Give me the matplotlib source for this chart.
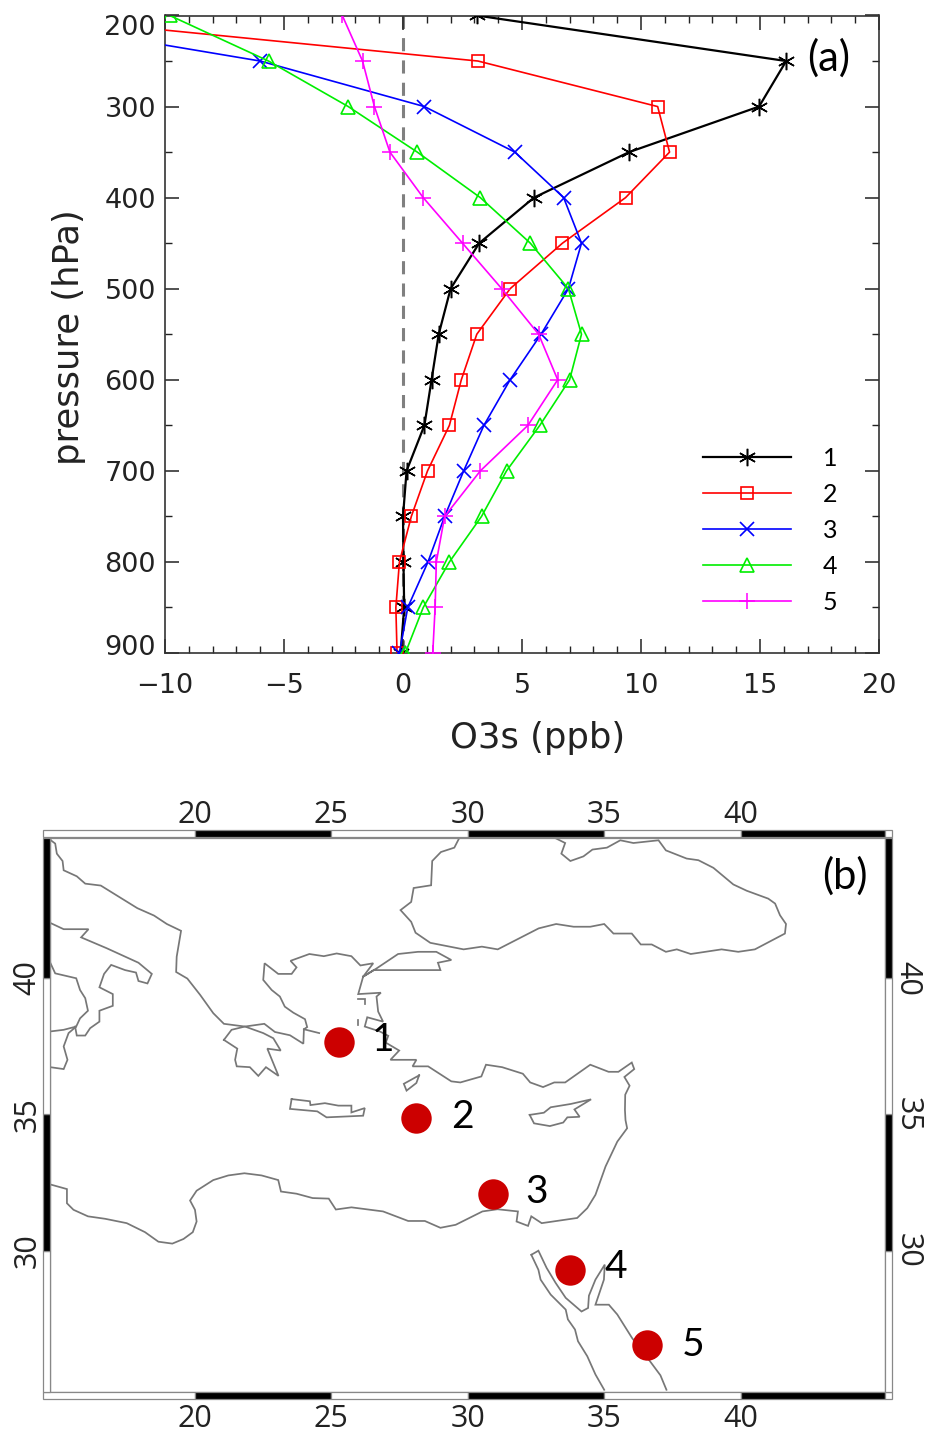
import matplotlib
matplotlib.use("Agg")
import matplotlib.pyplot as plt
from matplotlib.patches import Rectangle
from matplotlib.ticker import MultipleLocator
from matplotlib.transforms import ScaledTranslation

W, H = 927, 1433

# ---------- panel (a) data ----------
pressure = [200, 250, 300, 350, 400, 450, 500, 550, 600, 650, 700, 750, 800, 850, 900]
profile_1 = [3.1, 16.1, 14.96, 9.5, 5.5, 3.2, 2.0, 1.5, 1.2, 0.9, 0.15, 0.0, 0.02, 0.05, -0.1]
profile_2 = [-16.2, 3.15, 10.7, 11.2, 9.35, 6.7, 4.5, 3.1, 2.45, 1.95, 1.03, 0.35, -0.15, -0.3, -0.25]
profile_3 = [-17.4, -6.0, 0.9, 4.7, 6.75, 7.5, 6.95, 5.8, 4.5, 3.4, 2.55, 1.75, 1.05, 0.2, -0.15]
profile_4 = [-9.8, -5.65, -2.3, 0.6, 3.25, 5.35, 6.95, 7.5, 7.0, 5.75, 4.35, 3.3, 1.95, 0.85, 0.1]
profile_5 = [-2.55, -1.7, -1.2, -0.55, 0.85, 2.5, 4.15, 5.7, 6.5, 5.25, 3.25, 1.75, 1.4, 1.35, 1.25]
series_labels = ["1", "2", "3", "4", "5"]

# ---------- panel (b) data: site locations ----------
site_lon = [25.29, 28.11, 30.94, 33.76, 36.57]
site_lat = [37.66, 34.85, 32.09, 29.30, 26.54]
site_names = ["1", "2", "3", "4", "5"]

# ---------- panel (b) data: coastlines (lon, lat) ----------
balkan_lon = [14.71,14.73,14.89,14.95,15.16,15.20,15.68,15.99,16.56,17.27,17.90,18.51,18.98,19.50,19.34,19.32,19.73,20.20,20.68,21.07,21.84,22.55,22.94,23.49,23.98,24.00,24.56]
balkan_lat = [45.11,45.05,44.93,44.56,44.29,43.95,43.73,43.46,43.39,42.95,42.56,42.29,41.98,41.73,40.78,40.22,39.98,39.38,38.71,38.32,38.22,38.32,38.02,37.90,37.59,38.12,37.98]
aegean_lon = [24.00,24.12,24.04,23.61,23.30,23.12,22.82,22.51,22.56,23.06,23.55,23.73,23.51,24.20,24.73,25.20,25.74,26.07,26.54,26.17]
aegean_lat = [38.12,38.20,38.49,38.73,38.95,39.32,39.56,39.93,40.54,40.15,40.15,40.39,40.63,40.88,40.80,40.90,40.80,40.46,40.54,40.05]
thrace_lon = [26.17,26.66,27.45,28.18,28.85,29.40,28.91,29.00,26.56,26.17]
thrace_lat = [40.05,40.35,40.88,40.96,40.96,40.66,40.56,40.29,40.29,40.05]
anatolia_lon = [26.17,25.99,26.82,26.66,26.72,26.90,26.32,26.23,26.78,27.09,27.00,27.49,27.17,28.12,27.98,28.55,29.40,29.73,30.50,30.67,31.26,32.02,32.29,32.76,33.17,33.57,34.49,35.16,35.52,36.01,36.10,35.74,35.93,35.77,35.76,35.78,35.84,35.48,35.05,34.68,34.38,34.01,32.71,32.33,32.21,31.79,31.84,31.09,30.54,29.56,29.00,28.43,27.82,26.90,25.74,25.17,24.91,24.32,23.73,23.16,23.06,22.45,21.82,21.23,20.68,20.07,19.83,20.01,20.07,19.93,19.59,19.18,18.67,18.18,17.51,16.72,16.09,15.56,15.32,15.32,14.71]
anatolia_lat = [40.05,39.41,39.46,39.32,38.77,38.40,38.56,38.22,38.04,37.88,37.63,37.34,37.00,37.00,36.76,36.76,36.21,36.17,36.39,36.82,36.73,36.49,36.17,36.00,36.17,36.17,36.82,36.56,36.56,36.90,36.66,36.37,36.05,35.72,35.16,34.79,34.49,34.00,33.09,32.05,31.56,31.20,31.01,31.26,30.91,31.07,31.44,31.52,31.44,30.95,30.84,31.09,31.09,31.44,31.59,31.51,31.91,31.93,32.09,32.17,32.59,32.76,32.84,32.76,32.59,32.20,31.84,31.50,31.07,30.68,30.43,30.26,30.33,30.68,31.01,31.17,31.26,31.50,31.74,32.26,32.43]
blacksea_lon = [29.70,29.51,29.02,28.70,28.66,28.02,27.93,27.54,27.93,28.09,28.63,29.85,30.52,31.10,32.60,33.24,33.88,34.49,35.00,35.34,36.01,36.34,36.74,37.26,37.66,38.17,39.30,39.91,40.52,41.62,41.66,41.44,41.26,41.01,40.22,39.73,39.00,38.45,38.02,37.26,36.99,36.07,35.59,35.10,34.57,34.24,33.76,33.43,33.57,33.17]
blacksea_lat = [45.15,44.78,44.62,44.29,43.40,43.30,42.79,42.49,42.06,41.66,41.29,41.05,41.15,41.05,41.82,41.98,41.88,41.88,41.98,41.63,41.63,41.23,41.23,40.96,41.05,40.88,41.05,40.96,41.05,41.63,41.98,42.30,42.73,42.91,43.20,43.43,44.04,44.32,44.38,44.68,45.05,44.95,45.05,44.78,44.71,44.46,44.29,44.56,44.95,45.15]
pelop_lon = [21.07,21.35,21.84,22.51,22.88,23.15,22.66,23.07,22.61,22.33,22.02,21.54,21.48,21.56,21.07]
pelop_lat = [37.73,38.10,38.22,37.98,37.79,37.34,37.41,36.41,36.73,36.41,36.73,36.76,37.00,37.41,37.73]
crete_lon = [23.55,24.22,24.24,24.77,25.26,25.74,25.74,26.23,26.17,24.83,24.49,23.49,23.55]
crete_lat = [35.56,35.48,35.34,35.41,35.32,35.32,35.07,35.23,34.95,34.89,35.11,35.20,35.56]
rhodes_lon = [28.22,28.12,27.76,27.66,28.22]
rhodes_lat = [36.43,36.15,35.87,36.12,36.43]
cyprus_lon = [32.27,32.79,33.04,33.77,34.52,33.91,34.10,33.65,33.50,33.01,32.43,32.27]
cyprus_lat = [34.98,35.06,35.26,35.38,35.55,35.18,34.91,34.89,34.70,34.57,34.67,34.98]
italy_heel_lon = [14.71,15.20,16.11,15.84,16.78,17.94,18.43,18.27,17.94,17.85,17.45,16.94,16.68,16.51,17.00,17.00,16.51,16.51,16.17,15.99,15.68,15.62]
italy_heel_lat = [42.02,41.79,41.79,41.49,41.09,40.56,40.15,39.80,39.89,40.20,40.29,40.48,40.15,39.66,39.41,38.98,38.80,38.40,38.16,37.89,37.89,38.22]
italy_west_lon = [14.71,14.89,15.66,15.80,15.99,16.09,15.80,15.66]
italy_west_lat = [40.56,40.17,39.99,39.56,39.26,38.80,38.52,38.22]
sicily_lon = [14.71,15.20,15.66,15.38,15.20,15.34,15.20,14.71]
sicily_lat = [38.04,38.10,38.22,37.98,37.49,37.00,36.66,36.73]
sinai_lon = [32.33,32.59,32.89,33.22,33.59,34.17,34.41,34.44,34.68,35.02,34.99,34.68,35.17,35.48,36.02,36.33,36.63,37.06,37.28]
sinai_lat = [29.85,30.00,29.37,28.82,28.27,27.77,27.90,28.35,28.94,29.49,28.94,28.02,28.02,27.66,26.80,26.38,26.01,25.43,24.90]
egypt_lon = [32.33,32.59,32.67,33.04,33.59,33.67,33.93,34.04,34.38,34.68,35.00]
egypt_lat = [29.85,29.30,28.94,28.39,27.84,27.48,27.11,26.68,26.13,25.46,24.90]
islet1_lon = [25.99,26.23,26.23]
islet1_lat = [39.23,39.23,39.05]
islet2_lon = [25.99,25.99]
islet2_lat = [38.46,38.26]

coasts = [(balkan_lon, balkan_lat), (aegean_lon, aegean_lat), (thrace_lon, thrace_lat),
          (anatolia_lon, anatolia_lat), (blacksea_lon, blacksea_lat), (pelop_lon, pelop_lat),
          (crete_lon, crete_lat), (rhodes_lon, rhodes_lat), (cyprus_lon, cyprus_lat),
          (italy_heel_lon, italy_heel_lat), (italy_west_lon, italy_west_lat), (sicily_lon, sicily_lat),
          (sinai_lon, sinai_lat), (egypt_lon, egypt_lat), (islet1_lon, islet1_lat), (islet2_lon, islet2_lat)]

lon_ticks = [20, 25, 30, 35, 40]
lat_ticks = [30, 35, 40]


def px_axes(fig, left, top, right, bottom):
    return fig.add_axes([left / W, 1 - bottom / H, (right - left) / W, (bottom - top) / H])


TICK_FONT = "Open Sans"
AXIS_FONT = "DejaVu Sans"
NOTE_FONT = "Lato"
INK = "#222222"
MAP_TICK_SIZE = 22

fig = plt.figure(figsize=(W / 100, H / 100), dpi=100, facecolor="white")

# ---------- panel (a) ----------
ax = px_axes(fig, 165, 15.5, 879, 653)
ax.set_xlim(-10, 20)
ax.set_ylim(900, 200)
ax.axvline(0, color="#808080", lw=2.2, linestyle=(0, (4.3, 3.0)), zorder=1)

styles = [
    ("black", (6, 2, 0), 12.5, 1.6, 1.1),
    ("#FF0000", "s", 9, 1.2, 1.2),
    ("#0000FF", "x", 9.5, 1.2, 1.2),
    ("#00EE00", "^", 10, 1.2, 1.2),
    ("#FF00FF", "+", 11, 1.2, 1.1),
]
for vals, lab, (col, mk, ms, lw, mew) in zip(
        [profile_1, profile_2, profile_3, profile_4, profile_5], series_labels, styles):
    ax.plot(vals, pressure, color=col, marker=mk, ms=ms, lw=lw, mew=mew,
            mfc="none", mec=col, label=lab, zorder=3)

ax.xaxis.set_minor_locator(MultipleLocator(1))
ax.yaxis.set_minor_locator(MultipleLocator(50))
ax.tick_params(which="major", direction="in", length=10, width=1.1, top=True, right=True,
               labelsize=19.5, color=INK, pad=6.5)
ax.tick_params(which="minor", direction="in", length=5, width=1.0, top=True, right=True, color=INK)
ax.tick_params(axis="x", which="major", pad=14.5)
ax.set_xticks([-10, -5, 0, 5, 10, 15, 20])
ax.set_xticklabels(["\u221210", "\u22125", "0", "5", "10", "15", "20"], family=AXIS_FONT, color=INK)
ax.set_yticks(range(200, 901, 100))
ax.set_yticklabels([str(p) for p in range(200, 901, 100)], family=AXIS_FONT, color=INK)
ylabs = ax.get_yticklabels()
ylabs[0].set_va("top")
ylabs[-1].set_transform(ylabs[-1].get_transform() + ScaledTranslation(0, 8 / 100, fig.dpi_scale_trans))
for s in ax.spines.values():
    s.set_linewidth(1.2)
    s.set_color("#333333")
ax.set_xlabel("O3s (ppb)", family=AXIS_FONT, fontsize=25.5, color=INK, labelpad=16, x=0.522)
ax.set_ylabel("pressure (hPa)", family=AXIS_FONT, fontsize=25.5, color=INK, labelpad=13, y=0.496)
ax.text(0.93, 0.934, "(a)", transform=ax.transAxes, family=NOTE_FONT, fontsize=30, ha="center", va="center")
ax.legend(loc="upper left", bbox_to_anchor=((703 - 165) / 714, 1 - (447 - 15.5) / 637.5), frameon=False,
          handlelength=3.5, numpoints=1, labelspacing=0.52, handletextpad=1.3,
          borderpad=0, borderaxespad=0, prop={"family": NOTE_FONT, "size": 18})

# ---------- panel (b) ----------
m = px_axes(fig, 50, 837.5, 885, 1392)
lon0 = 20 + (50 - 194.7) / 27.3
lon1 = 20 + (885 - 194.7) / 27.3
lat1 = 40 - (837.5 - 978) / 27.27
lat0 = 40 - (1392 - 978) / 27.27
m.set_xlim(lon0, lon1)
m.set_ylim(lat0, lat1)
for clon, clat in coasts:
    m.plot(clon, clat, color="#777777", lw=1.25, zorder=2, solid_joinstyle="miter")
m.scatter(site_lon, site_lat, s=480, color="#CC0000", linewidths=0, zorder=3)
label_dx = [1.62, 1.68, 1.60, 1.66, 1.68]
label_dy = [0.08, 0.04, 0.06, 0.10, 0.02]
for lo, la, nm, dx, dy in zip(site_lon, site_lat, site_names, label_dx, label_dy):
    m.text(lo + dx, la + dy, nm, family=NOTE_FONT, fontsize=28, ha="center", va="center", zorder=4)
m.text(0.952, 0.93, "(b)", transform=m.transAxes, family=NOTE_FONT, fontsize=30, ha="center", va="center")

bw = 7.3 / 27.3
frame_edge = "#888888"
lon_edges = [lon0 - bw, 20, 25, 30, 35, 40, lon1]
lat_edges = [lat0, 30, 35, 40, lat1]
for i in range(len(lon_edges) - 1):
    c = "black" if i % 2 == 1 else "white"
    for y0 in (lat1, lat0 - bw):
        m.add_patch(Rectangle((lon_edges[i], y0), lon_edges[i + 1] - lon_edges[i], bw, fc=c,
                              ec=frame_edge, lw=0.9, clip_on=False, zorder=5))
for y0 in (lat1, lat0 - bw):
    m.add_patch(Rectangle((lon1, y0), bw, bw, fc="white", ec=frame_edge, lw=0.9, clip_on=False, zorder=5))
for j in range(len(lat_edges) - 1):
    c = "black" if j % 2 == 1 else "white"
    for x0 in (lon0 - bw, lon1):
        m.add_patch(Rectangle((x0, lat_edges[j]), bw, lat_edges[j + 1] - lat_edges[j], fc=c,
                              ec=frame_edge, lw=0.9, clip_on=False, zorder=5))

for s in m.spines.values():
    s.set_linewidth(0.9)
    s.set_color(frame_edge)
m.set_xticks(lon_ticks)
m.set_yticks(lat_ticks)
m.tick_params(length=0, labelsize=MAP_TICK_SIZE, labelcolor=INK)
m.tick_params(axis="x", pad=8.5)
m.tick_params(axis="y", pad=5.5)
for t in m.get_xticklabels():
    t.set_family(TICK_FONT)
for t in m.get_yticklabels():
    t.set_family(TICK_FONT)
    t.set_rotation(90)
    t.set_va("center")

top = m.secondary_xaxis("top")
top.set_xticks(lon_ticks)
top.tick_params(length=0, labelsize=MAP_TICK_SIZE, labelcolor=INK, pad=5.5)
for t in top.get_xticklabels():
    t.set_family(TICK_FONT)
top.spines["top"].set_visible(False)

right = m.secondary_yaxis("right")
right.set_yticks(lat_ticks)
right.tick_params(length=0, labelsize=MAP_TICK_SIZE, labelcolor=INK, pad=5.5)
for t in right.get_yticklabels():
    t.set_family(TICK_FONT)
    t.set_rotation(270)
    t.set_va("center")
right.spines["right"].set_visible(False)

fig.savefig("out.png", dpi=100)
